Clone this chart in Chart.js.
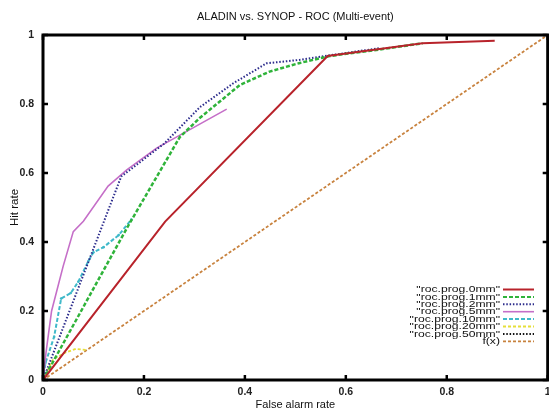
<!DOCTYPE html>
<html>
<head>
<meta charset="utf-8">
<script src="https://cdn.jsdelivr.net/npm/chart.js@4/dist/chart.umd.min.js"></script>
<style>
html,body{margin:0;padding:0;background:#fff;}
#wrap{width:549px;height:412px;position:relative;}
</style>
</head>
<body>
<div id="wrap"><canvas id="c" width="549" height="412"></canvas></div>
<script>
// ---- data ----
const TITLE = 'ALADIN vs. SYNOP - ROC (Multi-event)';
const X_LABEL = 'False alarm rate';
const Y_LABEL = 'Hit rate';
const X_TICKS = [0, 0.2, 0.4, 0.6, 0.8, 1];
const Y_TICKS = [0, 0.2, 0.4, 0.6, 0.8, 1];

const SERIES_NAMES = ['"roc.prog.0mm"', '"roc.prog.1mm"', '"roc.prog.2mm"', '"roc.prog.5mm"',
  '"roc.prog.10mm"', '"roc.prog.20mm"', '"roc.prog.50mm"', 'f(x)'];

const far0mm  = [0, 0.242, 0.564, 0.752, 0.895];
const hr0mm   = [0, 0.459, 0.939, 0.976, 0.983];

const far1mm  = [0, 0.17, 0.271, 0.311, 0.39, 0.449, 0.509, 0.568, 0.667, 0.752];
const hr1mm   = [0, 0.45, 0.704, 0.76, 0.855, 0.894, 0.919, 0.939, 0.958, 0.976];

const far2mm  = [0, 0.155, 0.24, 0.311, 0.377, 0.443, 0.509, 0.568, 0.667];
const hr2mm   = [0, 0.59, 0.685, 0.791, 0.86, 0.918, 0.928, 0.941, 0.962];

const far5mm  = [0, 0.006, 0.017, 0.04, 0.06, 0.08, 0.129, 0.166, 0.225, 0.364];
const hr5mm   = [0, 0.08, 0.2, 0.33, 0.43, 0.46, 0.562, 0.609, 0.672, 0.785];

const far10mm = [0, 0.005, 0.022, 0.036, 0.055, 0.07, 0.09, 0.1, 0.12, 0.15, 0.175];
const hr10mm  = [0, 0.05, 0.125, 0.236, 0.252, 0.285, 0.345, 0.37, 0.385, 0.42, 0.465];

const far20mm = [0, 0.02, 0.045, 0.065, 0.085];
const hr20mm  = [0, 0.06, 0.08, 0.09, 0.087];

const far50mm = [0, 0.006];
const hr50mm  = [0, 0.012];

const fxX = [0, 1];
const fxY = [0, 1];

const COLORS = ['#b8232b', '#2fb33a', '#2c2c8c', '#c56fc8', '#3fb9c9', '#e6df3a', '#111111', '#c8823e'];

// ---- build datasets ----
function pts(xs, ys) { return xs.map((x, i) => ({x: x, y: ys[i]})); }
const seriesData = [
  pts(far0mm, hr0mm), pts(far1mm, hr1mm), pts(far2mm, hr2mm), pts(far5mm, hr5mm),
  pts(far10mm, hr10mm), pts(far20mm, hr20mm), pts(far50mm, hr50mm), pts(fxX, fxY)
];
const styles = [
  {w: 2,   dash: []},
  {w: 2.5, dash: [4, 2]},
  {w: 2,   dash: [1.5, 1.8]},
  {w: 1.6, dash: []},
  {w: 2,   dash: [4, 2], pr: 1.3},
  {w: 1.8, dash: [3, 2]},
  {w: 2,   dash: [1.5, 1.8]},
  {w: 1.8, dash: [3, 2]}
];
const datasets = seriesData.map((d, i) => ({
  label: SERIES_NAMES[i],
  data: d,
  borderColor: COLORS[i],
  backgroundColor: COLORS[i],
  borderWidth: styles[i].w,
  borderDash: styles[i].dash,
  pointRadius: styles[i].pr || 0,
  pointBorderWidth: 0,
  pointHoverRadius: 0,
  tension: 0,
  fill: false
}));
// draw order: f(x) at the back
datasets[7].order = 10;

const FONT = '"Liberation Sans", Arial, Helvetica, sans-serif';

// frame and inward ticks
const framePlugin = {
  id: 'frame',
  afterDatasetsDraw(chart) {
    const {ctx, chartArea: a, scales} = chart;
    ctx.save();
    ctx.strokeStyle = '#000';
    ctx.lineWidth = 3;
    ctx.strokeRect(a.left, a.top, a.right - a.left, a.bottom - a.top);
    ctx.lineWidth = 2.5;
    const tl = 5;
    X_TICKS.forEach(v => {
      const px = scales.x.getPixelForValue(v);
      ctx.beginPath(); ctx.moveTo(px, a.bottom); ctx.lineTo(px, a.bottom - tl); ctx.stroke();
      ctx.beginPath(); ctx.moveTo(px, a.top); ctx.lineTo(px, a.top + tl); ctx.stroke();
    });
    Y_TICKS.forEach(v => {
      const py = scales.y.getPixelForValue(v);
      ctx.beginPath(); ctx.moveTo(a.left, py); ctx.lineTo(a.left + tl, py); ctx.stroke();
      ctx.beginPath(); ctx.moveTo(a.right, py); ctx.lineTo(a.right - tl, py); ctx.stroke();
    });
    ctx.restore();
  }
};

// gnuplot-style key: right-aligned text, sample line on the right
const keyPlugin = {
  id: 'gkey',
  afterDatasetsDraw(chart) {
    const {ctx} = chart;
    const textRight = 500, x0 = 503, x1 = 534, top = 289.5, step = 7.4, sx = 1.28;
    ctx.save();
    ctx.font = '9.5px ' + FONT;
    ctx.textAlign = 'right';
    ctx.textBaseline = 'middle';
    chart.data.datasets.forEach((ds, i) => {
      const y = top + i * step;
      ctx.save();
      ctx.translate(textRight, y);
      ctx.scale(sx, 1);
      ctx.fillStyle = '#111';
      ctx.fillText(ds.label, 0, 0);
      ctx.restore();
      ctx.strokeStyle = ds.borderColor;
      ctx.lineWidth = Math.min(ds.borderWidth, 2);
      ctx.setLineDash(ds.borderDash || []);
      ctx.beginPath(); ctx.moveTo(x0, y); ctx.lineTo(x1, y); ctx.stroke();
    });
    ctx.restore();
  }
};

new Chart(document.getElementById('c'), {
  type: 'line',
  data: {datasets: datasets},
  options: {
    responsive: false,
    animation: false,
    events: [],
    layout: {padding: {left: 0, right: 1, top: 0, bottom: 0}},
    plugins: {legend: {display: false}, tooltip: {enabled: false}, title: {display: false}},
    scales: {
      x: {
        type: 'linear', position: 'bottom', min: 0, max: 1,
        afterBuildTicks: s => { s.ticks = X_TICKS.map(v => ({value: v})); },
        afterFit: s => { s.height = 32; s.paddingLeft = 0; s.paddingRight = 0; },
        grid: {display: false, drawTicks: false},
        border: {display: false},
        ticks: {padding: 6, color: '#222', font: {family: FONT, size: 10.5, weight: 'bold'},
                maxRotation: 0, autoSkip: false, callback: v => String(v)},
        title: {display: true, text: X_LABEL, color: '#111', padding: {top: 0, bottom: 0},
                font: {family: FONT, size: 11}}
      },
      x2: {
        type: 'linear', position: 'top', min: 0, max: 1,
        afterFit: s => { s.height = 35; s.paddingLeft = 0; s.paddingRight = 0; },
        grid: {display: false, drawTicks: false},
        border: {display: false},
        ticks: {display: false},
        title: {display: true, text: TITLE, color: '#111', padding: {top: 10, bottom: 0},
                font: {family: FONT, size: 11}}
      },
      y: {
        type: 'linear', position: 'left', min: 0, max: 1,
        afterBuildTicks: s => { s.ticks = Y_TICKS.map(v => ({value: v})); },
        afterFit: s => { s.width = 43; s.paddingTop = 0; s.paddingBottom = 0; },
        grid: {display: false, drawTicks: false},
        border: {display: false},
        ticks: {padding: 9, color: '#222', font: {family: FONT, size: 10.5, weight: 'bold'},
                autoSkip: false, callback: v => String(v)},
        title: {display: true, text: Y_LABEL, color: '#111', padding: {top: 8, bottom: 0},
                font: {family: FONT, size: 11.5}}
      }
    }
  },
  plugins: [framePlugin, keyPlugin]
});
</script>
</body>
</html>
